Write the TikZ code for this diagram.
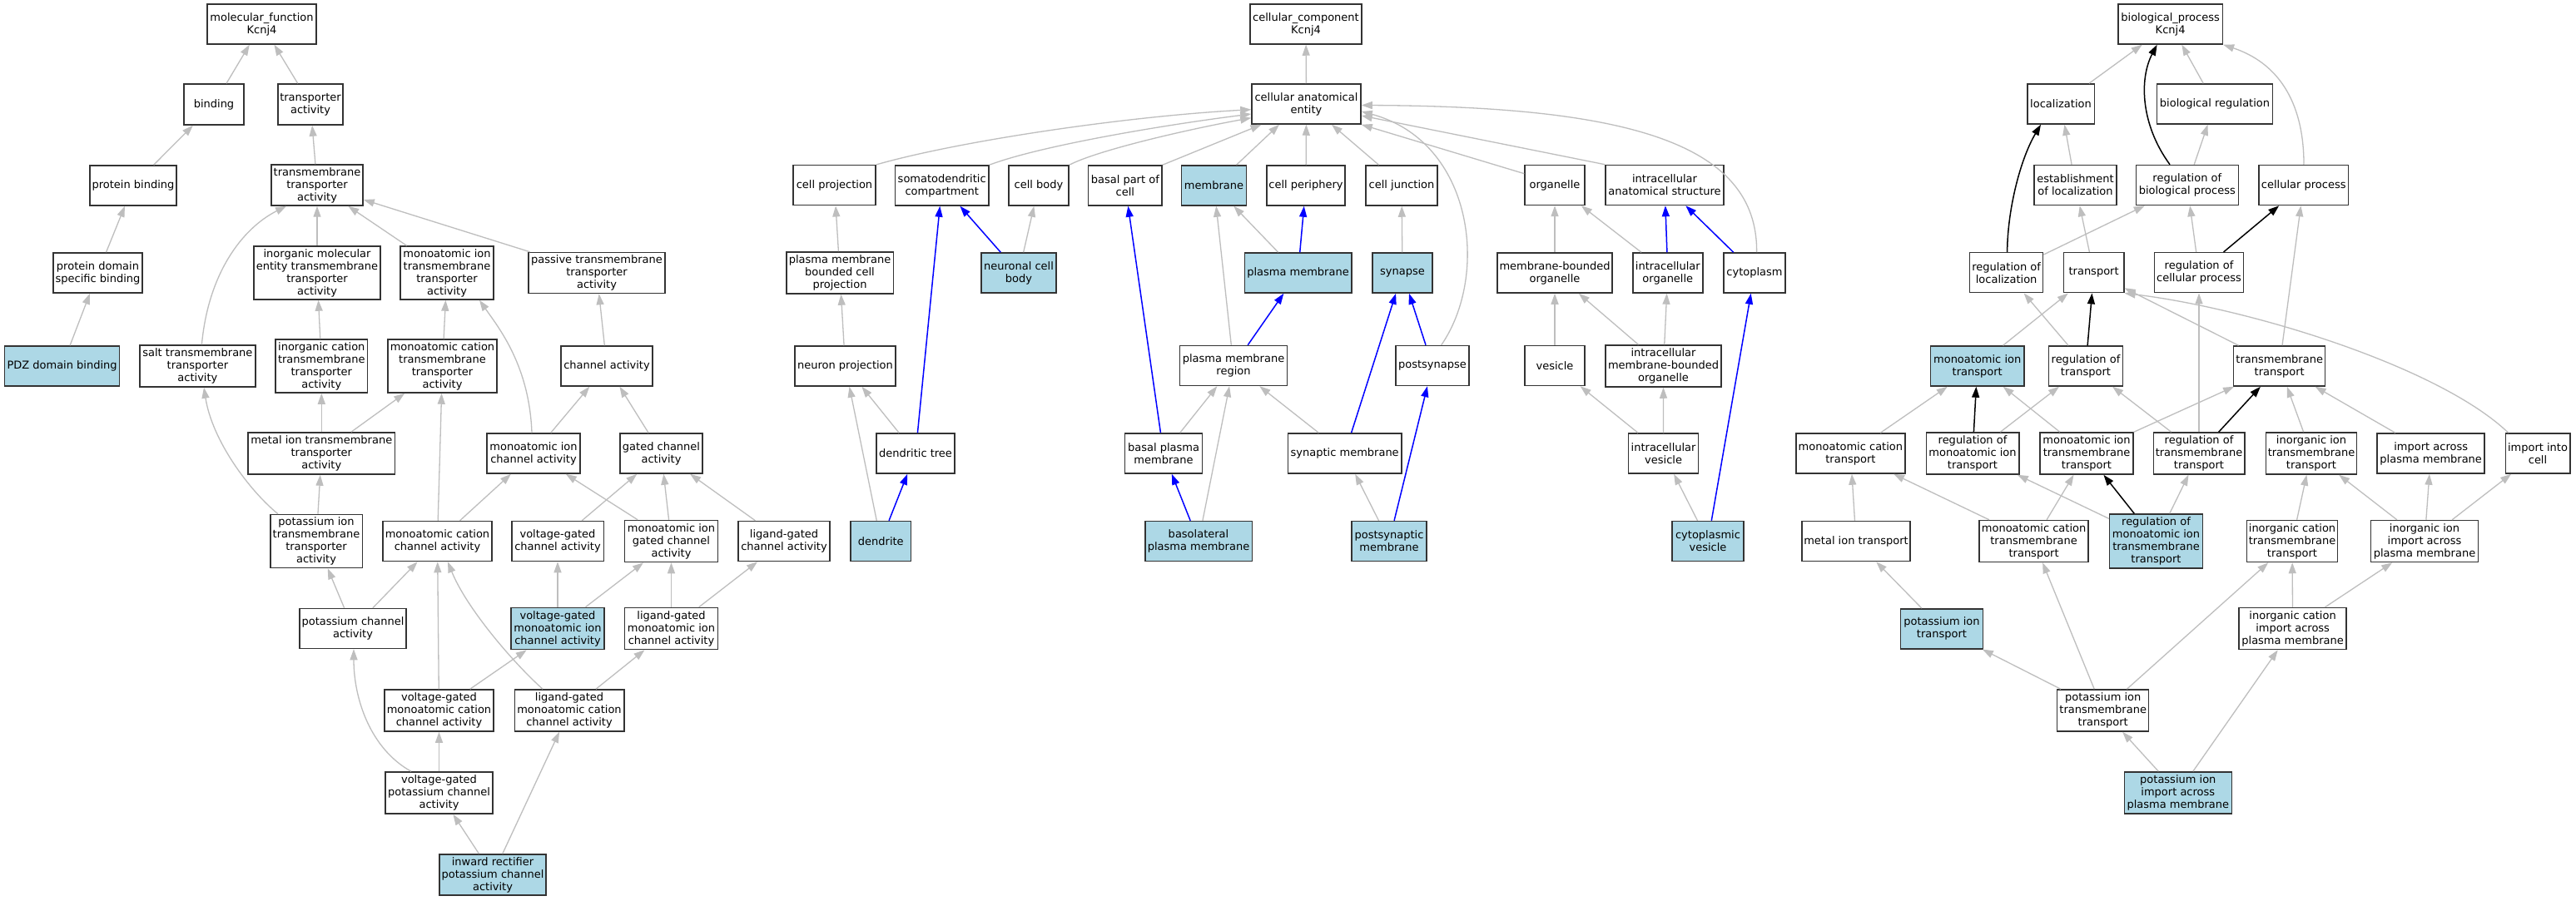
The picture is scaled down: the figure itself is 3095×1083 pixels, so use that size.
\documentclass[tikz,border=0pt]{standalone}
\usepackage{fontspec}
\setmainfont{DejaVu Sans}
\usetikzlibrary{arrows.meta}
\definecolor{lb}{HTML}{ADD8E6}
\definecolor{eg}{HTML}{BEBEBE}
\definecolor{bd}{HTML}{333333}
\tikzset{
  box/.style={draw=bd, line width=1.5pt, fill=white, rectangle, inner sep=0pt, align=center, font=\fontsize{13}{15}\selectfont},
  hl/.style={fill=lb},
  ge/.style={draw=eg, line width=1.3pt, -{Triangle[length=13pt,width=9pt]}},
  be/.style={draw=blue, line width=1.5pt, -{Triangle[length=13pt,width=9pt]}},
  ke/.style={draw=black, line width=1.5pt, -{Triangle[length=13pt,width=9pt]}},
}
\newcommand\gn[7][]{\node[box,#1,minimum width=#5pt,minimum height=#6pt] (#2) at (#3,#4) {#7};}
\newcommand\ed[3][ge]{\draw[#1] (#2) -- (#3);}
\begin{document}
\begin{tikzpicture}[x=1pt,y=-1pt]
\fill[white] (0,0) rectangle (3095,1083);
\useasboundingbox (0,0) rectangle (3095,1083);
% ---------------- molecular function ----------------
\gn{mf}{314.5}{29}{131}{48}{molecular\_function\\Kcnj4}
\gn{binding}{257}{125.5}{72}{49}{binding}
\gn{tract}{373}{125.5}{78}{49}{transporter\\activity}
\gn{protbind}{160}{223}{104}{48}{protein binding}
\gn{tmtt}{381}{222.5}{110}{49}{transmembrane\\transporter\\activity}
\gn{pdsb}{117.5}{328}{107}{48}{protein domain\\specific binding}
\gn{imett}{381}{328}{152}{64}{inorganic molecular\\entity transmembrane\\transporter\\activity}
\gn{mitt}{537}{328}{112}{64}{monoatomic ion\\transmembrane\\transporter\\activity}
\gn{passive}{717}{328}{164}{49}{passive transmembrane\\transporter\\activity}
\gn[hl]{pdz}{74.6}{440}{138}{48}{PDZ domain binding}
\gn{salt}{237.4}{440}{138.7}{50}{salt transmembrane\\transporter\\activity}
\gn{ictt}{386.3}{440}{110.6}{64}{inorganic cation\\transmembrane\\transporter\\activity}
\gn{mctt}{531.5}{440}{131}{64}{monoatomic cation\\transmembrane\\transporter\\activity}
\gn{chan}{729}{440}{110}{48}{channel activity}
\gn{mett}{386.3}{545}{176.6}{50}{metal ion transmembrane\\transporter\\activity}
\gn{mica}{641}{545}{112}{48}{monoatomic ion\\channel activity}
\gn{gca}{794.5}{545}{99}{48}{gated channel\\activity}
\gn{pitt}{380}{650.5}{110.5}{64}{potassium ion\\transmembrane\\transporter\\activity}
\gn{mcca}{525.5}{650.5}{131}{48}{monoatomic cation\\channel activity}
\gn{vgca}{670}{650.5}{110.5}{48}{voltage-gated\\channel activity}
\gn{migca}{806.5}{650.5}{112}{50}{monoatomic ion\\gated channel\\activity}
\gn{lgca}{942}{650.5}{110}{48}{ligand-gated\\channel activity}
\gn{pca}{424}{755.5}{128}{48}{potassium channel\\activity}
\gn[hl]{vgmica}{670}{755.5}{112}{50}{voltage-gated\\monoatomic ion\\channel activity}
\gn{lgmica}{806.5}{755.5}{112}{50}{ligand-gated\\monoatomic ion\\channel activity}
\gn{vgmcca}{527.5}{854}{131}{50}{voltage-gated\\monoatomic cation\\channel activity}
\gn{lgmcca}{684}{854}{131.5}{50}{ligand-gated\\monoatomic cation\\channel activity}
\gn{vgpca}{527.5}{953}{129}{50}{voltage-gated\\potassium channel\\activity}
\gn[hl]{irpca}{592}{1051.5}{128}{49}{inward rectifier\\potassium channel\\activity}
% ---------------- cellular component ----------------
\gn{cc}{1569}{29}{134}{48}{cellular\_component\\Kcnj4}
\gn{cae}{1569.5}{125}{131}{48}{cellular anatomical\\entity}
\gn{cellproj}{1002.5}{222.7}{99}{48}{cell projection}
\gn{soma}{1131.7}{223}{112.5}{48}{somatodendritic\\compartment}
\gn{cellbody}{1248}{223}{72}{48}{cell body}
\gn{basalpart}{1351.8}{223}{88.4}{48}{basal part of\\cell}
\gn[hl]{membrane}{1458.5}{223}{78}{48}{membrane}
\gn{periph}{1569}{223}{94.4}{48}{cell periphery}
\gn{junction}{1684}{223}{85.6}{48}{cell junction}
\gn{organelle}{1868}{222.5}{72}{48}{organelle}
\gn{ias}{2000}{222.5}{142}{48}{intracellular\\anatomical structure}
\gn{pmbcp}{1009}{328}{128.5}{50}{plasma membrane\\bounded cell\\projection}
\gn[hl]{ncb}{1224}{328}{90.4}{48}{neuronal cell\\body}
\gn[hl]{pm}{1559.5}{328}{128.5}{48}{plasma membrane}
\gn[hl]{synapse}{1685}{328}{72}{48}{synapse}
\gn{mbo}{1868}{328}{138}{48}{membrane-bounded\\organelle}
\gn{io}{2003.8}{328}{84}{48}{intracellular\\organelle}
\gn{cytoplasm}{2108}{328}{74}{48}{cytoplasm}
\gn{neuronproj}{1015.5}{440}{121}{48}{neuron projection}
\gn{pmr}{1482}{439.5}{129}{48}{plasma membrane\\region}
\gn{postsyn}{1721}{439.5}{88}{48}{postsynapse}
\gn{vesicle}{1868}{439.5}{72}{48}{vesicle}
\gn{imbo}{1998.5}{440}{139}{50}{intracellular\\membrane-bounded\\organelle}
\gn{dtree}{1100}{545}{94}{48}{dendritic tree}
\gn{bpm}{1398}{545}{93}{48}{basal plasma\\membrane}
\gn{synmem}{1615.7}{545}{136.6}{48}{synaptic membrane}
\gn{ivesicle}{1998.6}{545}{84}{48}{intracellular\\vesicle}
\gn[hl]{dendrite}{1058.3}{650.5}{72.6}{48}{dendrite}
\gn[hl]{baso}{1440}{650.5}{128.5}{48}{basolateral\\plasma membrane}
\gn[hl]{psm}{1669}{650.5}{90}{48}{postsynaptic\\membrane}
\gn[hl]{cves}{2052}{650.5}{86}{48}{cytoplasmic\\vesicle}
% ---------------- biological process ----------------
\gn{bp}{2607.6}{29}{125.6}{48}{biological\_process\\Kcnj4}
\gn{loc}{2476}{125}{80.5}{48}{localization}
\gn{bioreg}{2661}{125}{139}{48}{biological regulation}
\gn{estloc}{2493.5}{222.5}{99}{48}{establishment\\of localization}
\gn{rbp}{2627.8}{222.5}{123}{48}{regulation of\\biological process}
\gn{cellproc}{2767.7}{222.5}{107.4}{48}{cellular process}
\gn{rloc}{2410.6}{327.7}{88}{48}{regulation of\\localization}
\gn{transport}{2515.6}{327.7}{72.4}{48}{transport}
\gn{rcp}{2642}{327.7}{107}{48}{regulation of\\cellular process}
\gn[hl]{mit}{2375.7}{440}{112.4}{48}{monoatomic ion\\transport}
\gn{rt}{2506}{440}{89}{48}{regulation of\\transport}
\gn{tmt}{2738.7}{440}{110}{48}{transmembrane\\transport}
\gn{mct}{2223.4}{545}{131.3}{48}{monoatomic cation\\transport}
\gn{rmit}{2370}{545}{111.5}{50}{regulation of\\monoatomic ion\\transport}
\gn{mitmt}{2507}{545}{111.6}{50}{monoatomic ion\\transmembrane\\transport}
\gn{rtmt}{2642}{545}{109.5}{50}{regulation of\\transmembrane\\transport}
\gn{iitmt}{2777}{545}{109}{50}{inorganic ion\\transmembrane\\transport}
\gn{iapm}{2920.7}{545}{129}{48}{import across\\plasma membrane}
\gn{iic}{3049}{545}{77.5}{48}{import into\\cell}
\gn{metalt}{2230}{650.5}{130.4}{48}{metal ion transport}
\gn{mctmt}{2443.6}{650.5}{131}{50}{monoatomic cation\\transmembrane\\transport}
\gn[hl]{rmitmt}{2590.5}{650.5}{111.7}{65}{regulation of\\monoatomic ion\\transmembrane\\transport}
\gn{ictmt}{2754}{650.5}{109}{50}{inorganic cation\\transmembrane\\transport}
\gn{iiiapm}{2913}{650.5}{129}{50}{inorganic ion\\import across\\plasma membrane}
\gn[hl]{pit}{2333}{755.8}{99}{48}{potassium ion\\transport}
\gn{iciapm}{2754.6}{755.6}{129}{50}{inorganic cation\\import across\\plasma membrane}
\gn{pitmt}{2526.7}{854}{110}{50}{potassium ion\\transmembrane\\transport}
\gn[hl]{piiapm}{2616.8}{953}{129}{50}{potassium ion\\import across\\plasma membrane}
% ---------------- MF edges ----------------
\ed{binding}{mf}
\ed{tract}{mf}
\ed{protbind}{binding}
\ed{tmtt}{tract}
\ed{pdsb}{protbind}
\ed{pdz}{pdsb}
\ed{imett}{tmtt}
\ed{mitt}{tmtt}
\ed{passive}{tmtt}
\draw[ge] ([xshift=5pt]salt.north) .. controls (250,330) and (290,275) .. ([xshift=-37pt]tmtt.south);
\ed{ictt}{imett}
\ed{mctt}{mitt}
\draw[ge] ([xshift=-2pt]mica.north) .. controls (636,440) and (600,395) .. ([xshift=39pt]mitt.south);
\ed{chan}{passive}
\ed{mett}{ictt}
\ed{mett}{mctt}
\ed{mica}{chan}
\ed{gca}{chan}
\draw[ge] ([xshift=-46pt]pitt.north) .. controls (300,590) and (255,530) .. ([xshift=7.6pt]salt.south);
\ed{pitt}{mett}
\ed{mcca}{mctt}
\ed{mcca}{mica}
\ed{vgca}{gca}
\ed{migca}{mica}
\ed{migca}{gca}
\ed{lgca}{gca}
\ed{pca}{pitt}
\ed{pca}{mcca}
\ed{vgmica}{vgca}
\ed{vgmica}{migca}
\ed{lgmica}{migca}
\ed{lgmica}{lgca}
\ed{vgmcca}{mcca}
\ed{vgmcca}{vgmica}
\draw[ge] ([xshift=-32pt]lgmcca.north) .. controls (615,795) and (560,730) .. ([xshift=12.5pt]mcca.south);
\ed{lgmcca}{lgmica}
\draw[ge] ([xshift=-33.5pt]vgpca.north) .. controls (445,900) and (425,840) .. ([xshift=1pt]pca.south);
\ed{vgpca}{vgmcca}
\ed{irpca}{vgpca}
\ed{irpca}{lgmcca}
% ---------------- CC edges ----------------
\ed{cae}{cc}
\draw[ge] (cellproj.north east) .. controls (1150,170) and (1350,140) .. ([yshift=-6.7pt]cae.west);
\draw[ge] (soma.north east) .. controls (1250,175) and (1400,150) .. ([yshift=-12pt]cae.west);
\draw[ge] (cellbody.north east) .. controls (1320,180) and (1430,155) .. ([yshift=-16.7pt]cae.west);
\draw[ge] (basalpart.north east) -- ([xshift=-54pt]cae.south);
\draw[ge] ([xshift=27pt]membrane.north) -- ([xshift=-32.5pt]cae.south);
\ed{periph}{cae}
\draw[ge] ([xshift=-27.4pt]junction.north) -- ([xshift=30.5pt]cae.south);
\draw[ge] ([yshift=13.8pt]organelle.west) -- (cae.south east);
\draw[ge] (ias.north west) -- ([yshift=-14pt]cae.east);
\draw[ge] ([xshift=10.7pt]postsyn.north) .. controls (1790,330) and (1770,170) .. ([yshift=-9pt]cae.east);
\draw[ge] ([xshift=2.6pt]cytoplasm.north) .. controls (2112,170) and (1950,128) .. ([yshift=-1.5pt]cae.east);
\ed{pmbcp}{cellproj}
\ed[be]{ncb}{soma}
\ed{ncb}{cellbody}
\ed{pm}{membrane}
\ed[be]{pm}{periph}
\ed{synapse}{junction}
\ed{mbo}{organelle}
\ed{io}{organelle}
\ed[be]{io}{ias}
\ed[be]{cytoplasm}{ias}
\ed{neuronproj}{pmbcp}
\ed{pmr}{membrane}
\ed[be]{pmr}{pm}
\ed[be]{postsyn}{synapse}
\ed{vesicle}{mbo}
\ed{imbo}{mbo}
\ed{imbo}{io}
\ed{dtree}{neuronproj}
\ed[be]{dtree}{soma}
\ed[be]{bpm}{basalpart}
\ed{bpm}{pmr}
\ed{synmem}{pmr}
\ed[be]{synmem}{synapse}
\ed{ivesicle}{vesicle}
\ed{ivesicle}{imbo}
\ed{dendrite}{neuronproj}
\ed[be]{dendrite}{dtree}
\ed[be]{baso}{bpm}
\ed{baso}{pmr}
\ed{psm}{synmem}
\ed[be]{psm}{postsyn}
\ed{cves}{ivesicle}
\ed[be]{cves}{cytoplasm}
% ---------------- BP edges ----------------
\ed{loc}{bp}
\ed{bioreg}{bp}
\draw[ke] ([xshift=-20.8pt]rbp.north) .. controls (2572,150) and (2570,95) .. ([xshift=-16pt]bp.south);
\draw[ge] ([xshift=0.3pt]cellproc.north) .. controls (2768,120) and (2735,75) .. (bp.south east);
\ed{estloc}{loc}
\ed{rbp}{bioreg}
\draw[ke] ([xshift=1pt]rloc.north) .. controls (2412,250) and (2428,190) .. ([xshift=-24pt]loc.south);
\ed{rloc}{rbp}
\ed{transport}{estloc}
\ed{rcp}{rbp}
\ed[ke]{rcp}{cellproc}
\ed{tmt}{cellproc}
\ed{mit}{transport}
\ed{rt}{rloc}
\ed[ke]{rt}{transport}
\ed{tmt}{transport}
\draw[ge] ([xshift=-35.3pt]iic.north) .. controls (2930,440) and (2700,370) .. (transport.south east);
\ed{mct}{mit}
\ed[ke]{rmit}{mit}
\ed{rmit}{rt}
\ed{mitmt}{mit}
\ed{mitmt}{tmt}
\ed{rtmt}{rt}
\ed[ke]{rtmt}{tmt}
\ed{rtmt}{rcp}
\ed{iitmt}{tmt}
\ed{iapm}{tmt}
\ed{metalt}{mct}
\ed{mctmt}{mct}
\ed{mctmt}{mitmt}
\ed{rmitmt}{rmit}
\ed[ke]{rmitmt}{mitmt}
\ed{rmitmt}{rtmt}
\ed{ictmt}{iitmt}
\ed{iiiapm}{iitmt}
\ed{iiiapm}{iapm}
\ed{iiiapm}{iic}
\ed{pit}{metalt}
\ed{iciapm}{ictmt}
\ed{iciapm}{iiiapm}
\ed{pitmt}{pit}
\ed{pitmt}{mctmt}
\ed{pitmt}{ictmt}
\ed{piiapm}{pitmt}
\ed{piiapm}{iciapm}
\end{tikzpicture}
\end{document}
